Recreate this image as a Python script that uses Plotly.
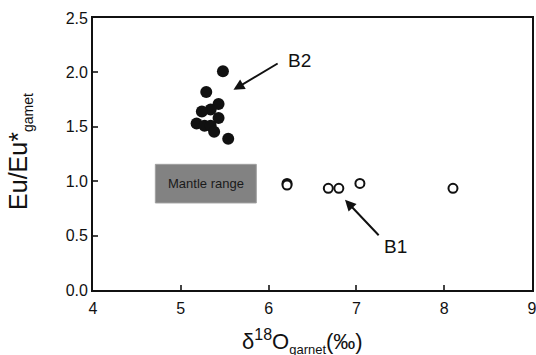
import plotly.graph_objects as go

# B2 (filled)
b2_x = [5.48, 5.29, 5.43, 5.34, 5.24, 5.43, 5.18, 5.27, 5.34, 5.38, 5.54]
b2_y = [2.01, 1.82, 1.71, 1.66, 1.64, 1.58, 1.53, 1.51, 1.51, 1.455, 1.39]
# B1 (open)
b1_x = [6.21, 6.21, 6.68, 6.80, 7.04, 8.10]
b1_y = [0.98, 0.965, 0.935, 0.935, 0.98, 0.935]

mantle_x = [4.71, 5.86]
mantle_y = [0.80, 1.155]

x_ticks = [4, 5, 6, 7, 8, 9]
y_ticks = [0, 0.5, 1.0, 1.5, 2.0, 2.5]

FONT = "Liberation Sans, Arial, sans-serif"
INK = "#111111"

fig = go.Figure()
fig.add_shape(type="rect", x0=mantle_x[0], x1=mantle_x[1], y0=mantle_y[0], y1=mantle_y[1],
              xref="x", yref="y", fillcolor="#828282", line=dict(color="#a0a0a0", width=1), layer="below")
fig.add_annotation(x=sum(mantle_x)/2, y=sum(mantle_y)/2, text="Mantle range", showarrow=False,
                   font=dict(family=FONT, size=13, color="#1a1a1a"))

fig.add_trace(go.Scatter(x=b2_x, y=b2_y, mode="markers",
                         marker=dict(size=12, color=INK, line=dict(width=0)), showlegend=False))
fig.add_trace(go.Scatter(x=b1_x, y=b1_y, mode="markers",
                         marker=dict(size=9, color="white", symbol="circle",
                                     line=dict(width=2, color=INK)), showlegend=False))

# arrows
fig.add_annotation(x=5.60, y=1.84, ax=6.12, ay=2.09, xref="x", yref="y", axref="x", ayref="y",
                   text="", showarrow=True, arrowhead=2, arrowsize=1.1, arrowwidth=2, arrowcolor=INK)
fig.add_annotation(x=6.357, y=2.105, text="B2", showarrow=False, font=dict(family=FONT, size=19, color=INK))
fig.add_annotation(x=6.87, y=0.83, ax=7.27, ay=0.49, xref="x", yref="y", axref="x", ayref="y",
                   text="", showarrow=True, arrowhead=2, arrowsize=1.1, arrowwidth=2, arrowcolor=INK)
fig.add_annotation(x=7.45, y=0.404, text="B1", showarrow=False, font=dict(family=FONT, size=19, color=INK))

# axis titles
fig.add_annotation(xref="paper", yref="paper", x=0.478, y=-0.252,
                   text="δ<sup><span style='font-size:16px'>18</span></sup>O<sub><span style='font-size:13px'>garnet</span></sub>(‰)",
                   showarrow=False, font=dict(family=FONT, size=22, color=INK))
fig.add_annotation(xref="paper", yref="paper", x=-0.207, y=0.51,
                   text="Eu/Eu*<sub><span style='font-size:14px'>gamet</span></sub>",
                   textangle=-90, showarrow=False, font=dict(family=FONT, size=25, color=INK))

fig.update_xaxes(range=[4, 9], tickvals=x_ticks, ticks="inside", ticklen=5, tickwidth=1.5,
                 showline=True, linecolor=INK, linewidth=1.8, mirror=True, showgrid=False, zeroline=False,
                 automargin=False, ticklabeloverflow="allow", ticklabelstandoff=3,
                 tickfont=dict(family=FONT, size=16, color=INK))
fig.update_yaxes(range=[0, 2.5], tickvals=y_ticks, tickformat=".1f", ticks="inside",
                 ticklen=5, tickwidth=1.5, showline=True, linecolor=INK, linewidth=1.8, mirror=True,
                 showgrid=False, zeroline=False, automargin=False, ticklabeloverflow="allow",
                 tickfont=dict(family=FONT, size=16, color=INK))

fig.update_layout(width=536, height=355, margin=dict(l=93, r=4, t=18, b=65),
                  plot_bgcolor="white", paper_bgcolor="white")
fig.write_html("out.html", config={"displayModeBar": False},
               post_script="document.body.style.margin='0';document.body.style.overflow='hidden';")
